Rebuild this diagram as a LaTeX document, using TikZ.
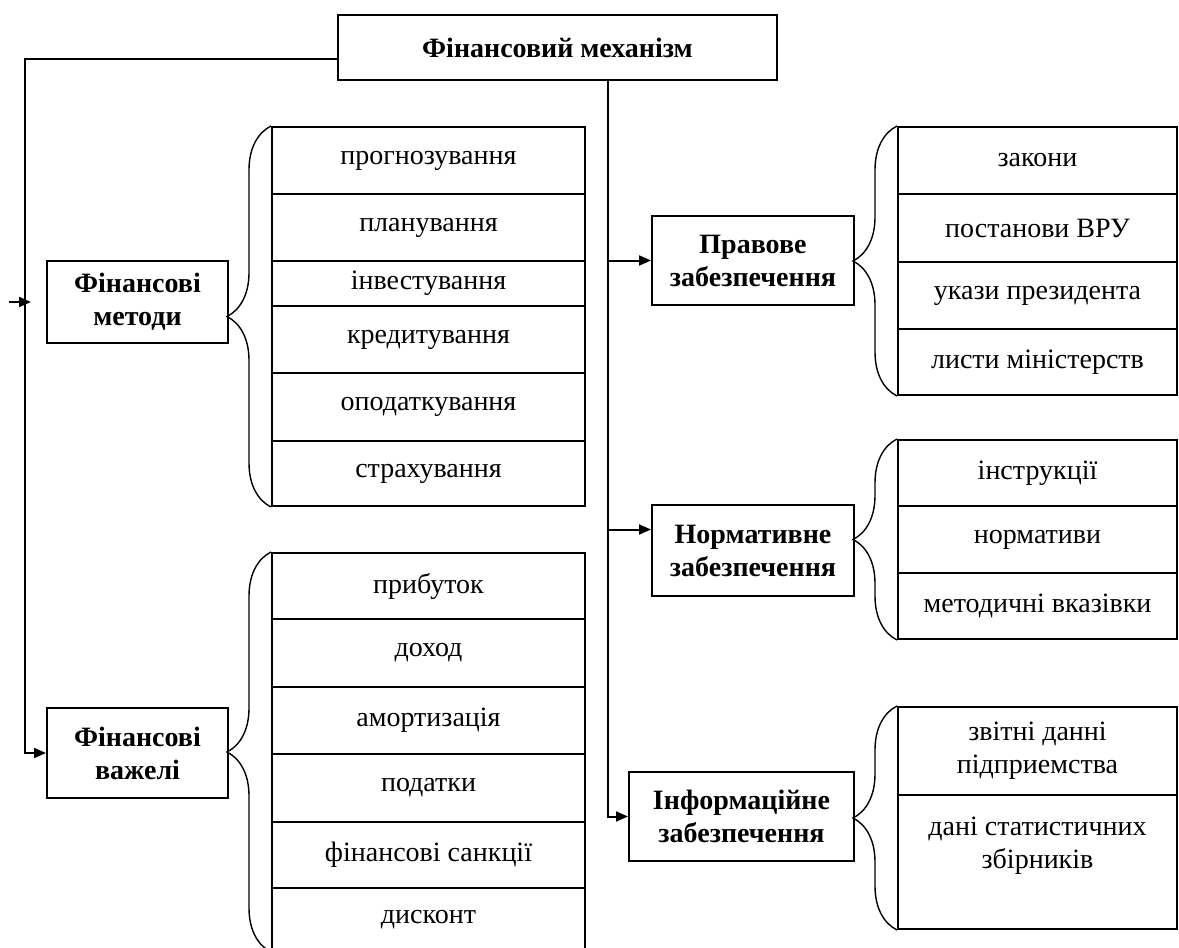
\documentclass[tikz,border=0pt]{standalone}
\usepackage{fontspec}
\setmainfont{Liberation Serif}
\usetikzlibrary{positioning, arrows.meta, decorations.pathreplacing}
\newcommand{\dsize}{\fontsize{28pt}{33pt}\selectfont}
\tikzset{%
	>={Triangle[length=12pt, width=10pt]},
	blk/.style = {draw, rectangle, inner sep = 0pt, align = center, font = \dsize\bfseries},
	lcell/.style = {draw, rectangle, inner sep = 0pt, anchor = north, font = \dsize, minimum width = 313pt, minimum height = #1},
	rcell/.style = {draw, rectangle, inner sep = 0pt, anchor = north, font = \dsize, align = center, minimum width = 279pt, minimum height = #1},
	brc/.style = {decorate, decoration = {brace, amplitude = 44pt}, line width = 1.4pt}
}
\begin{document}
\begin{tikzpicture}[x=1pt, y=-1pt, line width=2pt]
			\useasboundingbox (0,0) rectangle (1179,948);
			\node [blk, minimum width = 439pt, minimum height = 65pt] (main) at (557.5,47.5) {Фінансовий механізм};
			\node [blk, minimum width = 181pt, minimum height = 82pt] (methods) at (137.5,302) {Фінансові\\методи};
			\node [blk, minimum width = 181pt, minimum height = 90pt] (levers) at (137.5,753) {Фінансові\\важелі};
			\node [blk, minimum width = 202pt, minimum height = 89pt] (legal) at (753,260.5) {Правове\\забезпечення};
			\node [blk, minimum width = 202pt, minimum height = 91pt] (norm) at (753,550.5) {Нормативне\\забезпечення};
			\node [blk, minimum width = 225pt, minimum height = 89pt] (info) at (741.5,816.5) {Інформаційне\\забезпечення};
			% методи
			\node [lcell = 67pt] (m1) at (428.5,126) {прогнозування};
			\node [lcell = 67pt] (m2) at (428.5,193) {планування};
			\node [lcell = 45pt] (m3) at (428.5,260) {інвестування};
			\node [lcell = 67pt] (m4) at (428.5,305) {кредитування};
			\node [lcell = 68pt] (m5) at (428.5,372) {оподаткування};
			\node [lcell = 65pt] (m6) at (428.5,440) {страхування};
			% важелі
			\node [lcell = 66pt] (v1) at (428.5,552) {прибуток};
			\node [lcell = 68pt] (v2) at (428.5,618) {доход};
			\node [lcell = 67pt] (v3) at (428.5,686) {амортизація};
			\node [lcell = 68pt] (v4) at (428.5,753) {податки};
			\node [lcell = 66pt] (v5) at (428.5,821) {фінансові санкції};
			\node [lcell = 63pt] (v6) at (428.5,887) {дисконт};
			% правове
			\node [rcell = 67pt] (p1) at (1037.5,126) {закони};
			\node [rcell = 68pt] (p2) at (1037.5,193) {постанови ВРУ};
			\node [rcell = 67pt] (p3) at (1037.5,261) {укази президента};
			\node [rcell = 66pt] (p4) at (1037.5,328) {листи міністерств};
			% нормативне
			\node [rcell = 66pt] (n1) at (1037.5,439) {інструкції};
			\node [rcell = 67pt] (n2) at (1037.5,505) {нормативи};
			\node [rcell = 66pt] (n3) at (1037.5,572) {методичні вказівки};
			% інформаційне
			\node [rcell = 88pt] (i1) at (1037.5,706) {звітні данні\\підприемства};
			\node [rcell = 134pt] (i2) at (1037.5,794) {};
			\node [font = \dsize, align = center] (i2t) at ([yshift=-52pt]i2.north) {дані статистичних\\збірників};
			% лінії
			\coordinate (tl) at (25,59);
			\coordinate (ta) at (9,302);
			\coordinate (tb) at (31,302);
			\coordinate (tr) at (608,80);
			\coordinate (nj) at ([yshift=21pt]norm.west);
			\draw [->] (main.west |- tl) -- (tl) |- (levers.west);
			\draw [->] (ta) -- (tb);
			\draw [->] (main.south -| tr) |- (info.west);
			\draw [->] (tr |- legal.west) -- (legal.west);
			\draw [->] (tr |- nj) -- (nj);
			\draw [brc] (m6.south west) -- (m1.north west);
			\draw [brc] (v6.south west) -- (v1.north west);
			\draw [brc] (p4.south west) -- (p1.north west);
			\draw [brc] (n3.south west) -- (n1.north west);
			\draw [brc] (i2.south west) -- (i1.north west);
\end{tikzpicture}
\end{document}
